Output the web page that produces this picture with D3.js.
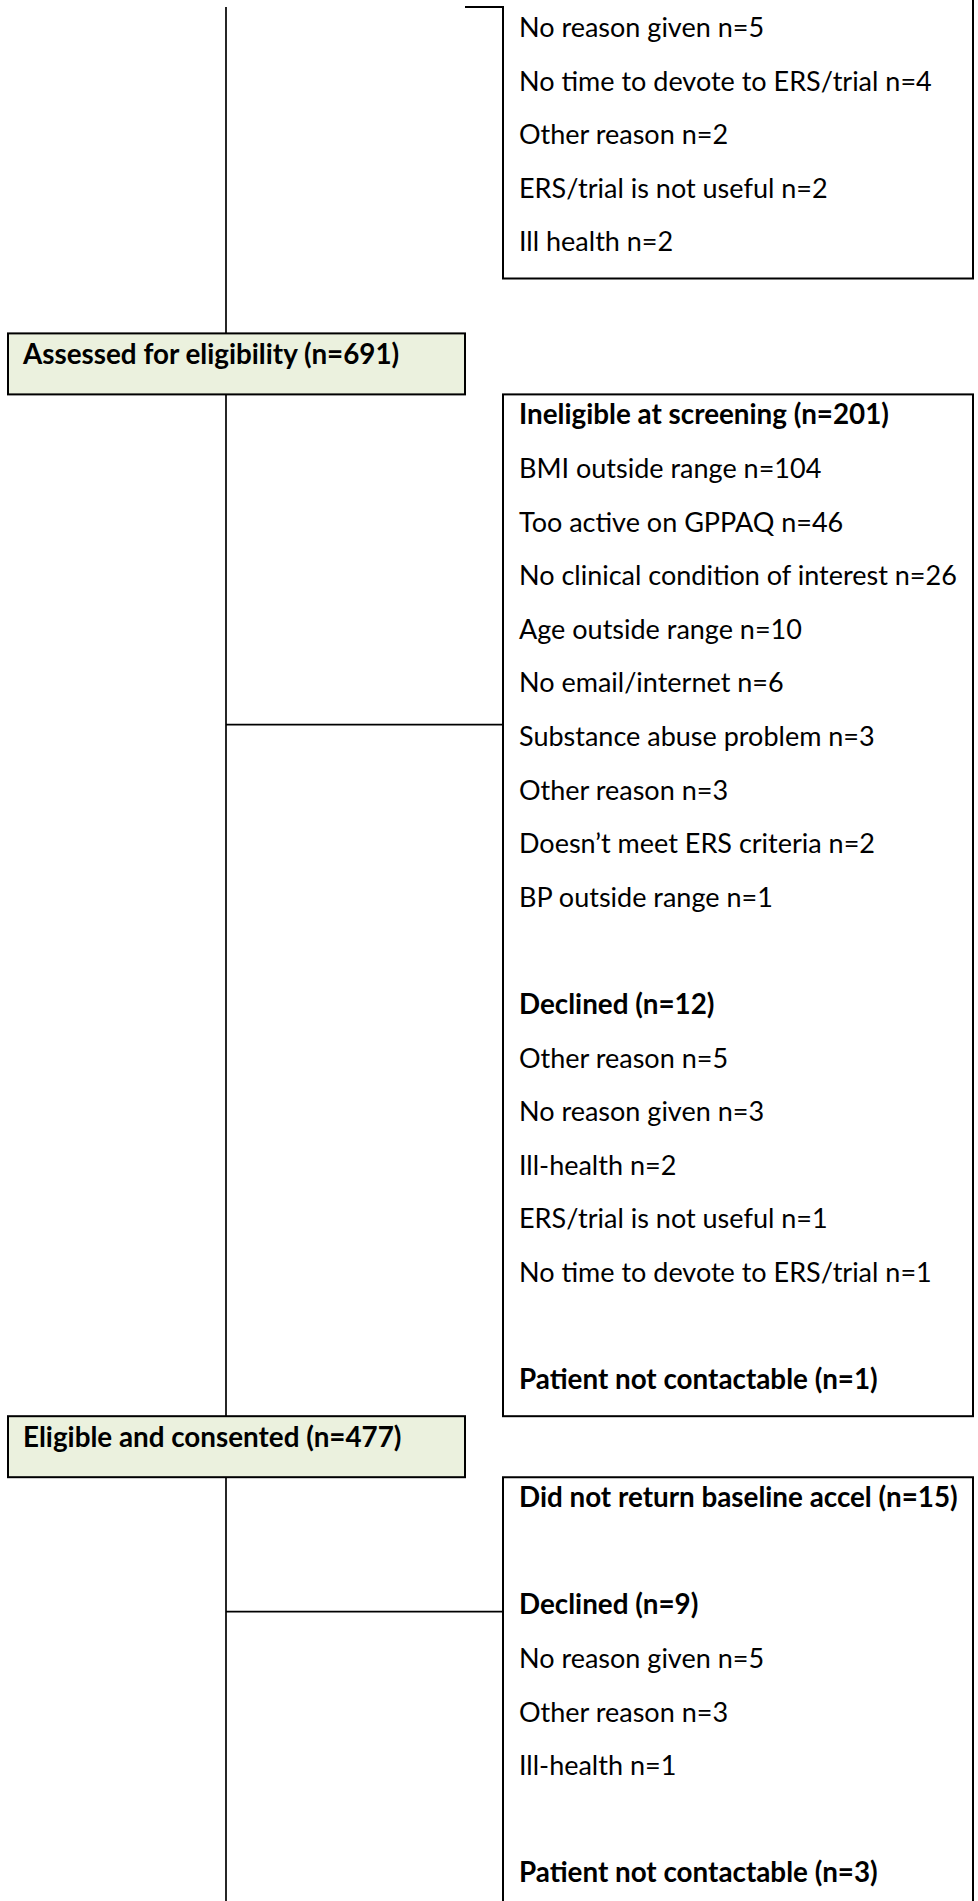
<!DOCTYPE html>
<html>
<head>
<meta charset="utf-8">
<title>Participant flow</title>
<script src="https://cdn.jsdelivr.net/npm/d3@7"></script>
<style>
  body { margin: 0; background: #fff; }
  svg text { font-family: Lato, "Open Sans", sans-serif; font-size: 27px; fill: #000; }
  svg text.b { font-weight: bold; font-size: 27.8px; }
</style>
</head>
<body>
<svg id="vis" width="978" height="1901"></svg>
<script>
// main stages (green boxes)
var stages = ["Assessed for eligibility (n=691)", "Eligible and consented (n=477)"];

// box 1 (cut at top of page) - declined reasons
var topReasons = ["No reason given n=5", "No time to devote to ERS/trial n=4", "Other reason n=2",
                  "ERS/trial is not useful n=2", "Ill health n=2"];

// box 2 - after assessment
var ineligibleTitle = "Ineligible at screening (n=201)";
var ineligibleReasons = ["BMI outside range n=104", "Too active on GPPAQ n=46",
  "No clinical condition of interest n=26", "Age outside range n=10", "No email/internet n=6",
  "Substance abuse problem n=3", "Other reason n=3", "Doesn\u2019t meet ERS criteria n=2",
  "BP outside range n=1"];
var declined1Title = "Declined (n=12)";
var declined1Reasons = ["Other reason n=5", "No reason given n=3", "Ill-health n=2",
  "ERS/trial is not useful n=1", "No time to devote to ERS/trial n=1"];
var notContact1 = "Patient not contactable (n=1)";

// box 3 - after consent
var noAccelTitle = "Did not return baseline accel (n=15)";
var declined2Title = "Declined (n=9)";
var declined2Reasons = ["No reason given n=5", "Other reason n=3", "Ill-health n=1"];
var notContact2 = "Patient not contactable (n=3)";

// build line lists  ("" = empty line)
function bold(t) { return {t: t, b: true}; }
function plain(t) { return {t: t, b: false}; }
var box1 = topReasons.map(plain);
var box2 = [bold(ineligibleTitle)].concat(ineligibleReasons.map(plain), [plain("")],
           [bold(declined1Title)], declined1Reasons.map(plain), [plain(""), bold(notContact1)]);
var box3 = [bold(noAccelTitle), plain(""), bold(declined2Title)].concat(
           declined2Reasons.map(plain), [plain(""), bold(notContact2)]);

// layout
var W = 978, H = 1901;
var step = 53.6, padTop = 30, padBot = 27;
var stageH = 61, gap = 55;
var leftX0 = 8, leftX1 = 465, trunkX = 226;
var boxX0 = 503, boxX1 = 973, textPad = 16;

function boxHeight(lines) { return padTop + (lines.length - 1) * step + padBot; }

var y = 7;
var b1 = {top: y, lines: box1, h: boxHeight(box1)}; y += b1.h + gap;
var s1 = {top: y, text: stages[0]}; y += stageH;
var b2 = {top: y, lines: box2, h: boxHeight(box2), link: 5.6}; y += b2.h;
var s2 = {top: y, text: stages[1]}; y += stageH;
var b3 = {top: y, lines: box3, h: boxHeight(box3), link: 1.95};

var svg = d3.select("#vis");
var ink = "#000";

// trunk line
svg.append("line").attr("x1", trunkX).attr("x2", trunkX).attr("y1", b1.top).attr("y2", H)
  .attr("stroke", ink).attr("stroke-width", 1.7);

function drawLines(b) {
  var rowY = d3.scaleLinear().domain([0, 1]).range([b.top + padTop, b.top + padTop + step]);
  svg.append("g").selectAll("text").data(b.lines).join("text")
    .attr("class", function (d) { return d.b ? "b" : null; })
    .attr("x", boxX0 + textPad)
    .attr("y", function (d, i) { return rowY(i); })
    .text(function (d) { return d.t; });
  if (b.link != null) {
    svg.append("line").attr("x1", trunkX).attr("x2", boxX0)
      .attr("y1", rowY(b.link)).attr("y2", rowY(b.link))
      .attr("stroke", ink).attr("stroke-width", 1.7);
  }
}

// box 1: open at top, connector stub from stage column
svg.append("path")
  .attr("d", "M" + leftX1 + "," + b1.top + "H" + boxX0 + "V" + (b1.top + b1.h) + "H" + boxX1 + "V0")
  .attr("fill", "none").attr("stroke", ink).attr("stroke-width", 2);
drawLines(b1);

// box 2
svg.append("rect").attr("x", boxX0).attr("y", b2.top).attr("width", boxX1 - boxX0).attr("height", b2.h)
  .attr("fill", "#fff").attr("stroke", ink).attr("stroke-width", 2);
drawLines(b2);

// box 3: runs off the page
svg.append("path")
  .attr("d", "M" + boxX0 + "," + H + "V" + b3.top + "H" + boxX1 + "V" + H)
  .attr("fill", "none").attr("stroke", ink).attr("stroke-width", 2);
drawLines(b3);

// green stage boxes
[s1, s2].forEach(function (s) {
  svg.append("rect").attr("x", leftX0).attr("y", s.top).attr("width", leftX1 - leftX0).attr("height", stageH)
    .attr("fill", "#ebf1de").attr("stroke", ink).attr("stroke-width", 2);
  svg.append("text").attr("class", "b").attr("x", leftX0 + 15).attr("y", s.top + 31).text(s.text);
});
</script>
</body>
</html>
